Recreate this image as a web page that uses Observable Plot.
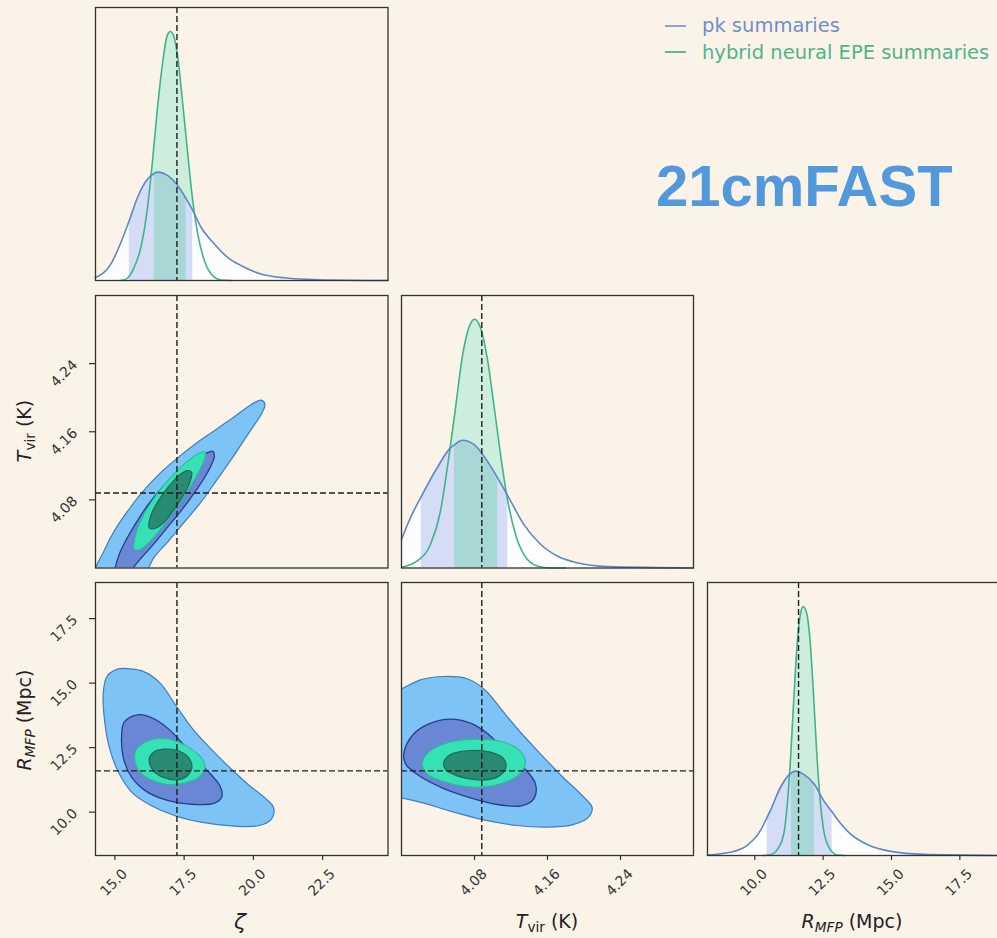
<!DOCTYPE html>
<html><head><meta charset="utf-8">
<script src="https://cdn.jsdelivr.net/npm/d3@7"></script>
<script src="https://cdn.jsdelivr.net/npm/@observablehq/plot@0.6"></script>
<style>
html,body{margin:0;padding:0;background:#fcf3e8;overflow:hidden;}
#wrap{position:relative;width:997px;height:938px;background:#fcf3e8;overflow:hidden;font-family:"DejaVu Sans",sans-serif;}
.panel{position:absolute;}
.lab{position:absolute;font-family:"DejaVu Sans",sans-serif;font-size:19px;line-height:19px;color:#222;white-space:nowrap;}
.sub{font-size:0.72em;position:relative;top:0.28em;}
.it{font-style:italic;}
.legline{position:absolute;height:2px;width:21px;}
.legtxt{position:absolute;font-family:"DejaVu Sans",sans-serif;font-size:19.5px;line-height:20px;white-space:nowrap;}
#title{position:absolute;left:656px;top:157px;font-family:"Liberation Sans",Arial,sans-serif;font-weight:bold;font-size:58px;line-height:58px;color:#5299dc;white-space:nowrap;}
</style></head><body><div id="wrap">
<div id="title">21cmFAST</div>
<div class="legline" style="left:665px;top:24.5px;background:#8aa4d6"></div>
<div class="legtxt" style="left:702px;top:16px;color:#6f8fcc">pk summaries</div>
<div class="legline" style="left:665px;top:51px;background:#55be97"></div>
<div class="legtxt" style="left:702px;top:43px;color:#4db58d">hybrid neural EPE summaries</div>
<div class="lab" style="left:240px;top:911px;transform:translateX(-50%);font-size:22px;line-height:22px"><span class="it">ζ</span></div>
<div class="lab" style="left:547px;top:912px;transform:translateX(-50%)"><span class="it">T</span><span class="sub">vir</span> (K)</div>
<div class="lab" style="left:852px;top:912px;transform:translateX(-50%)"><span class="it">R</span><span class="sub it">MFP</span> (Mpc)</div>
<div class="lab" style="left:25px;top:431px;transform:translate(-50%,-50%) rotate(-90deg)"><span class="it">T</span><span class="sub">vir</span> (K)</div>
<div class="lab" style="left:25px;top:720px;transform:translate(-50%,-50%) rotate(-90deg)"><span class="it">R</span><span class="sub it">MFP</span> (Mpc)</div>
</div>
<script>
// ---- axis domains, ticks and true values ----
const zetaDomain = [14.3, 24.86];
const tvirDomain = [4.0, 4.32];
const rmfpDomainY = [8.32, 18.9];
const rmfpDomainX = [8.27, 18.95];
const densityDomain = [0, 1];
const zetaTicks = [15, 17.5, 20, 22.5];
const tvirTicks = [4.08, 4.16, 4.24];
const rmfpTicks = [10, 12.5, 15, 17.5];
const zetaTrue = 17.24;
const tvirTrue = 4.088;
const rmfpTrue = 11.6;

// ---- 1D marginals: [value, normalised density] ----
const zetaPk = [[14.29,0.010],[14.86,0.061],[15.34,0.171],[15.52,0.220],[15.82,0.305],[16.18,0.372],[16.42,0.392],[16.54,0.397],[16.90,0.385],[17.27,0.348],[17.57,0.300],[17.81,0.257],[18.11,0.195],[18.59,0.134],[19.07,0.085],[19.55,0.055],[20.27,0.024],[21.12,0.010],[22.32,0.003],[24.86,0.0]];
const zetaHy = [[15.20,0.0],[15.40,0.005],[15.70,0.049],[15.94,0.122],[16.18,0.269],[16.36,0.440],[16.54,0.635],[16.72,0.794],[16.87,0.891],[17.00,0.912],[17.12,0.897],[17.27,0.818],[17.45,0.647],[17.63,0.464],[17.81,0.293],[17.99,0.171],[18.23,0.073],[18.59,0.012],[18.83,0.002],[19.2,0.0]];
const zetaPkBand = [15.52, 17.81];
const zetaHyBand = [16.42, 17.57];

const tvirPk = [[4.0,0.105],[4.0099,0.185],[4.0216,0.262],[4.0391,0.368],[4.0537,0.441],[4.0581,0.452],[4.0665,0.469],[4.0793,0.454],[4.0939,0.393],[4.1055,0.330],[4.1165,0.265],[4.134,0.160],[4.1523,0.087],[4.1706,0.044],[4.1925,0.019],[4.2254,0.005],[4.32,0.0]];
const tvirHy = [[4.0,0.003],[4.0172,0.026],[4.0318,0.087],[4.0427,0.209],[4.0518,0.405],[4.0592,0.588],[4.0665,0.772],[4.0738,0.882],[4.08,0.913],[4.0866,0.882],[4.0939,0.772],[4.1012,0.600],[4.1085,0.417],[4.1158,0.258],[4.1249,0.124],[4.134,0.050],[4.1487,0.007],[4.163,0.0],[4.18,0.0]];
const tvirPkBand = [4.0216, 4.1165];
const tvirHyBand = [4.0581, 4.1055];

const rmfpPk = [[8.26,0.002],[9.11,0.012],[9.72,0.037],[10.21,0.092],[10.45,0.140],[10.57,0.165],[10.94,0.250],[11.34,0.303],[11.49,0.309],[11.79,0.297],[12.18,0.261],[12.52,0.201],[12.83,0.159],[13.01,0.134],[13.50,0.079],[14.11,0.040],[14.97,0.015],[16.18,0.004],[18.95,0.0]];
const rmfpHy = [[10.3,0.0],[10.57,0.003],[10.88,0.031],[11.06,0.079],[11.21,0.214],[11.31,0.360],[11.43,0.580],[11.55,0.775],[11.67,0.885],[11.77,0.912],[11.89,0.891],[12.01,0.800],[12.14,0.604],[12.26,0.385],[12.38,0.214],[12.52,0.092],[12.71,0.031],[13.01,0.002],[13.3,0.0]];
const rmfpPkBand = [10.45, 12.83];
const rmfpHyBand = [11.34, 12.18];

// ---- 2D credible contours (68% / 95%) ----
const zetaTvirPk95 = [[14.253,3.989],[14.615,4.0206],[14.976,4.0433],[15.458,4.0667],[15.939,4.0870],[16.541,4.1085],[17.144,4.1261],[17.866,4.1448],[18.589,4.1612],[19.311,4.1776],[19.913,4.1917],[20.275,4.1971],[20.419,4.1924],[20.275,4.1800],[19.974,4.1651],[19.612,4.1475],[19.191,4.1269],[18.709,4.1046],[18.107,4.0773],[17.505,4.0538],[16.903,4.0304],[16.421,4.0128],[16.000,3.9894],[15.1,3.975]];
const zetaTvirPk68 = [[14.976,3.9894],[15.120,4.0128],[15.397,4.0324],[15.759,4.0527],[16.180,4.0734],[16.662,4.0929],[17.264,4.1112],[17.866,4.1269],[18.348,4.1354],[18.541,4.1370],[18.589,4.1308],[18.348,4.1124],[17.926,4.0909],[17.444,4.0695],[16.903,4.0480],[16.361,4.0265],[15.879,4.0090],[15.397,3.9894],[15.15,3.978]];
const zetaTvirHy95 = [[15.698,4.0226],[15.759,4.0402],[16.060,4.0636],[16.481,4.0851],[16.963,4.1046],[17.505,4.1222],[17.987,4.1339],[18.251,4.1362],[18.251,4.1292],[17.987,4.1105],[17.625,4.0909],[17.144,4.0675],[16.662,4.0460],[16.180,4.0285],[15.879,4.0214]];
const zetaTvirHy68 = [[16.240,4.0472],[16.277,4.0597],[16.541,4.0773],[16.903,4.0941],[17.264,4.1073],[17.601,4.1144],[17.770,4.1124],[17.722,4.1019],[17.481,4.0862],[17.144,4.0695],[16.782,4.0538],[16.445,4.0464]];

const zetaRmfpPk95 = [[15.096,15.543],[14.711,15.258],[14.579,14.587],[14.615,13.682],[14.795,12.519],[15.157,11.486],[15.638,10.736],[16.301,10.258],[17.144,9.871],[18.107,9.612],[19.311,9.457],[20.214,9.483],[20.660,9.742],[20.732,10.168],[20.455,10.517],[19.853,11.034],[19.191,11.680],[18.468,12.455],[17.806,13.230],[17.204,14.134],[16.602,15.039],[16.000,15.465],[15.518,15.556]];
const zetaRmfpPk68 = [[15.759,13.760],[15.337,13.488],[15.241,12.907],[15.313,12.067],[15.602,11.357],[16.120,10.814],[16.903,10.452],[17.866,10.297],[18.589,10.349],[18.854,10.581],[18.805,10.995],[18.444,11.486],[17.987,11.977],[17.505,12.584],[17.023,13.140],[16.481,13.579],[16.060,13.760]];
const zetaRmfpHy95 = [[15.759,12.390],[16.036,12.674],[16.541,12.855],[17.144,12.778],[17.649,12.519],[18.047,12.196],[18.251,11.809],[18.107,11.421],[17.625,11.163],[16.903,11.072],[16.301,11.253],[15.879,11.589],[15.723,12.003]];
const zetaRmfpHy68 = [[16.240,12.067],[16.397,12.326],[16.782,12.442],[17.264,12.390],[17.625,12.158],[17.782,11.770],[17.625,11.421],[17.264,11.253],[16.782,11.331],[16.373,11.615]];

const tvirRmfpPk95 = [[3.966,12.649],[3.9879,14.651],[4.0000,14.780],[4.0208,15.129],[4.0464,15.258],[4.0720,15.168],[4.0921,14.716],[4.1103,13.941],[4.1286,13.165],[4.1505,12.326],[4.1761,11.382],[4.1980,10.646],[4.2090,10.168],[4.2042,9.780],[4.1870,9.509],[4.1596,9.419],[4.1268,9.483],[4.0902,9.703],[4.0537,10.039],[4.0245,10.349],[4.0000,10.556],[3.9879,10.633]];
const tvirRmfpPk68 = [[4.0026,12.287],[4.0128,13.010],[4.0300,13.424],[4.0537,13.605],[4.0756,13.450],[4.0946,13.036],[4.1129,12.390],[4.1341,11.718],[4.1468,11.098],[4.1450,10.517],[4.1311,10.245],[4.1048,10.297],[4.0756,10.556],[4.0446,10.943],[4.0190,11.421],[4.0044,11.873]];
const tvirRmfpHy95 = [[4.0227,11.899],[4.0311,12.364],[4.0519,12.700],[4.0811,12.829],[4.1103,12.726],[4.1286,12.416],[4.1359,11.938],[4.1297,11.486],[4.1085,11.098],[4.0793,10.969],[4.0500,11.150],[4.0289,11.460]];
const tvirRmfpHy68 = [[4.0464,11.938],[4.0537,12.235],[4.0756,12.390],[4.0975,12.326],[4.1114,12.093],[4.1143,11.718],[4.1048,11.357],[4.0829,11.253],[4.0610,11.408],[4.0482,11.654]];

// ---- styling ----
const M = 60;
const INK = "#333";
const DASH = {stroke: "#1e1e1e", strokeDasharray: "6,3", strokeWidth: 1.4};
const X = d => d[0], Y = d => d[1];
const wrap = document.getElementById("wrap");

function place(svg, fx, fy) {
  svg.classList.add("panel");
  svg.style.left = (fx - M) + "px";
  svg.style.top = (fy - M) + "px";
  wrap.appendChild(svg);
  svg.querySelectorAll("text").forEach(t => { t.setAttribute("font-size", "14"); t.style.fontSize = "14px"; t.style.fontFamily = "DejaVu Sans, sans-serif"; });
}
function xAxis(ticks, fmt) {
  return [
    Plot.axisX(ticks, {tickSize: 5, tickFormat: () => "", color: INK, strokeWidth: 1.2, label: null}),
    Plot.text(ticks, {x: d => d, text: d => d3.format(fmt)(d), frameAnchor: "bottom", dx: -1, dy: 27, rotate: -45,
      textAnchor: "middle", lineAnchor: "middle", fontSize: 14, fill: INK})
  ];
}
function yAxis(ticks, fmt) {
  return [
    Plot.axisY(ticks, {tickSize: 6, tickFormat: () => "", color: INK, strokeWidth: 1.2, label: null}),
    Plot.text(ticks, {y: d => d, text: d => d3.format(fmt)(d), frameAnchor: "left", dx: -31.5, dy: 10, rotate: -45,
      textAnchor: "middle", lineAnchor: "middle", fontSize: 14, fill: INK})
  ];
}
function base(fw, fh) {
  return {width: fw + 2 * M, height: fh + 2 * M, marginLeft: M, marginRight: M, marginTop: M, marginBottom: M,
    style: {background: "transparent", fontFamily: "DejaVu Sans, sans-serif", fontSize: "14px", color: INK, overflow: "visible", maxWidth: "none"}};
}

function marginal({fx, fy, fw, fh, domain, pk, hy, pkBand, hyBand, truth, ticks, fmt}) {
  const cv = "monotone-x";
  const inBand = b => d => d[0] >= b[0] && d[0] <= b[1];
  const svg = Plot.plot({
    ...base(fw, fh),
    x: {domain, axis: ticks ? undefined : null},
    y: {domain: densityDomain, axis: null},
    marks: [
      Plot.areaY(hy, {x: X, y: Y, fill: "#cdeedd", curve: cv}),
      Plot.areaY(pk, {x: X, y: Y, fill: "#fdfdfe", curve: cv}),
      Plot.areaY(pk.filter(inBand(pkBand)), {x: X, y: Y, fill: "#d5dcf6", curve: cv}),
      Plot.areaY(pk.filter(inBand(hyBand)), {x: X, y: Y, fill: "#a8d8d6", curve: cv}),
      Plot.line(hy, {x: X, y: Y, stroke: "#3fb48c", strokeWidth: 1.6, curve: cv}),
      Plot.line(pk, {x: X, y: Y, stroke: "#5f86c6", strokeWidth: 1.6, curve: cv}),
      Plot.ruleX([truth], DASH),
      ticks ? xAxis(ticks, fmt) : null,
      Plot.frame({stroke: INK, strokeWidth: 1.3})
    ]
  });
  place(svg, fx, fy);
}

function joint({fx, fy, fw, fh, xDomain, yDomain, c, tx, ty, xTicks, xFmt, yTicks, yFmt}) {
  const cv = "catmull-rom-closed";
  const svg = Plot.plot({
    ...base(fw, fh),
    x: {domain: xDomain, axis: xTicks ? undefined : null},
    y: {domain: yDomain, axis: yTicks ? undefined : null},
    marks: [
      Plot.line(c[0], {x: X, y: Y, curve: cv, fill: "#7dc3f6", stroke: "#3f7fbc", strokeWidth: 1.2, clip: true}),
      Plot.line(c[1], {x: X, y: Y, curve: cv, fill: "#6a87d5", stroke: "#233f8c", strokeWidth: 1.3, clip: true}),
      Plot.line(c[2], {x: X, y: Y, curve: cv, fill: "#36e2b5", stroke: "#2bbd95", strokeWidth: 1.1, clip: true}),
      Plot.line(c[3], {x: X, y: Y, curve: cv, fill: "#2a8a72", stroke: "#1d6b57", strokeWidth: 1.2, clip: true}),
      Plot.ruleX([tx], DASH),
      Plot.ruleY([ty], DASH),
      xTicks ? xAxis(xTicks, xFmt) : null,
      yTicks ? yAxis(yTicks, yFmt) : null,
      Plot.frame({stroke: INK, strokeWidth: 1.3})
    ]
  });
  place(svg, fx, fy);
}

// column x: 94.5 / 401 / 707 ; row y: 7 / 294.5 / 582
marginal({fx: 94.5, fy: 7, fw: 292.5, fh: 273, domain: zetaDomain, pk: zetaPk, hy: zetaHy,
  pkBand: zetaPkBand, hyBand: zetaHyBand, truth: zetaTrue});
joint({fx: 94.5, fy: 294.5, fw: 292.5, fh: 272.5, xDomain: zetaDomain, yDomain: tvirDomain,
  c: [zetaTvirPk95, zetaTvirPk68, zetaTvirHy95, zetaTvirHy68], tx: zetaTrue, ty: tvirTrue,
  yTicks: tvirTicks, yFmt: ".2f"});
marginal({fx: 401, fy: 294.5, fw: 292, fh: 272.5, domain: tvirDomain, pk: tvirPk, hy: tvirHy,
  pkBand: tvirPkBand, hyBand: tvirHyBand, truth: tvirTrue});
joint({fx: 94.5, fy: 582, fw: 292.5, fh: 273, xDomain: zetaDomain, yDomain: rmfpDomainY,
  c: [zetaRmfpPk95, zetaRmfpPk68, zetaRmfpHy95, zetaRmfpHy68], tx: zetaTrue, ty: rmfpTrue,
  xTicks: zetaTicks, xFmt: ".1f", yTicks: rmfpTicks, yFmt: ".1f"});
joint({fx: 401, fy: 582, fw: 292, fh: 273, xDomain: tvirDomain, yDomain: rmfpDomainY,
  c: [tvirRmfpPk95, tvirRmfpPk68, tvirRmfpHy95, tvirRmfpHy68], tx: tvirTrue, ty: rmfpTrue,
  xTicks: tvirTicks, xFmt: ".2f"});
marginal({fx: 707, fy: 582, fw: 292, fh: 273, domain: rmfpDomainX, pk: rmfpPk, hy: rmfpHy,
  pkBand: rmfpPkBand, hyBand: rmfpHyBand, truth: rmfpTrue, ticks: rmfpTicks, fmt: ".1f"});
</script>
</body></html>
